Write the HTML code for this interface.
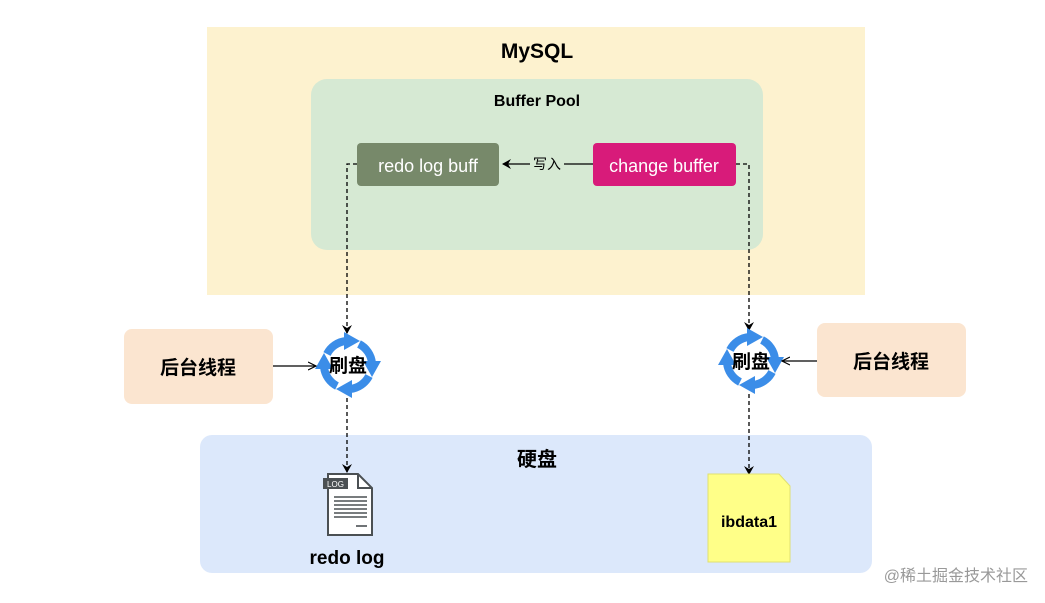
<!DOCTYPE html>
<html><head><meta charset="utf-8"><style>
body{margin:0;background:#fff;}
svg{display:block;}
text{font-family:"Liberation Sans","Noto Sans CJK SC",sans-serif;}
</style></head><body>
<svg width="1045" height="603" viewBox="0 0 1045 603" xmlns="http://www.w3.org/2000/svg">
<defs>
<marker id="ah" markerWidth="10" markerHeight="10" refX="8" refY="5" orient="auto" markerUnits="userSpaceOnUse"><path d="M0,0 L9,5 L0,10 L3,5 Z" fill="#000"/></marker>
<marker id="ao" markerWidth="10" markerHeight="10" refX="8" refY="5" orient="auto" markerUnits="userSpaceOnUse"><path d="M0,1 L8,5 L0,9" fill="none" stroke="#000" stroke-width="1.2"/></marker>
<g id="cyc">
<path d="M-21,-11 A24,24 0 0 1 -2,-24" fill="none" stroke="#3b8de8" stroke-width="8"/>
<path d="M-4,-33 L12,-24 L-4,-15 Z" fill="#3b8de8"/>
<path d="M11,-21 A24,24 0 0 1 24,-2" fill="none" stroke="#3b8de8" stroke-width="8"/>
<path d="M33,-4 L24,12 L15,-4 Z" fill="#3b8de8"/>
<path d="M21,11 A24,24 0 0 1 2,24" fill="none" stroke="#3b8de8" stroke-width="8"/>
<path d="M4,33 L-12,24 L4,15 Z" fill="#3b8de8"/>
<path d="M-11,21 A24,24 0 0 1 -24,2" fill="none" stroke="#3b8de8" stroke-width="8"/>
<path d="M-33,4 L-24,-12 L-15,4 Z" fill="#3b8de8"/>
</g>
</defs>
<rect x="207" y="27" width="658" height="268" fill="#fdf2cf"/>
<text x="537" y="58" font-size="21" font-weight="bold" text-anchor="middle">MySQL</text>
<rect x="311" y="79" width="452" height="171" rx="16" fill="#d6e9d3"/>
<text x="537" y="106" font-size="16" font-weight="bold" text-anchor="middle">Buffer Pool</text>
<rect x="357" y="143" width="142" height="43" rx="4" fill="#77896a"/>
<text x="428" y="172" font-size="18" fill="#fff" text-anchor="middle">redo log buff</text>
<rect x="593" y="143" width="143" height="43" rx="4" fill="#d81b7a"/>
<text x="664" y="172" font-size="18" fill="#fff" text-anchor="middle">change buffer</text>
<line x1="593" y1="164" x2="564" y2="164" stroke="#000" stroke-width="1.3"/>
<line x1="530" y1="164" x2="503" y2="164" stroke="#000" stroke-width="1.3" marker-end="url(#ah)"/>
<text x="547" y="169" font-size="14" text-anchor="middle">写入</text>
<polyline points="357,164 347,164 347,333" fill="none" stroke="#000" stroke-width="1.3" stroke-dasharray="4,3" marker-end="url(#ah)"/>
<polyline points="736,164 749,164 749,330" fill="none" stroke="#000" stroke-width="1.3" stroke-dasharray="4,3" marker-end="url(#ah)"/>
<rect x="124" y="329" width="149" height="75" rx="8" fill="#fbe5d0"/>
<text x="198" y="374" font-size="19" font-weight="bold" text-anchor="middle">后台线程</text>
<rect x="817" y="323" width="149" height="74" rx="8" fill="#fbe5d0"/>
<text x="891" y="368" font-size="19" font-weight="bold" text-anchor="middle">后台线程</text>
<use href="#cyc" x="348" y="365"/>
<use href="#cyc" x="751" y="361"/>
<text x="348" y="372" font-size="19" font-weight="bold" text-anchor="middle">刷盘</text>
<text x="751" y="368" font-size="19" font-weight="bold" text-anchor="middle">刷盘</text>
<line x1="273" y1="366" x2="316" y2="366" stroke="#000" stroke-width="1.3" marker-end="url(#ao)"/>
<line x1="817" y1="361" x2="782" y2="361" stroke="#000" stroke-width="1.3" marker-end="url(#ao)"/>
<rect x="200" y="435" width="672" height="138" rx="12" fill="#dce8fb"/>
<text x="537" y="466" font-size="20" font-weight="bold" text-anchor="middle">硬盘</text>
<line x1="347" y1="398" x2="347" y2="472" stroke="#000" stroke-width="1.3" stroke-dasharray="4,3" marker-end="url(#ah)"/>
<line x1="749" y1="394" x2="749" y2="474" stroke="#000" stroke-width="1.3" stroke-dasharray="4,3" marker-end="url(#ah)"/>
<path d="M328,474 L358,474 L372,488 L372,535 L328,535 Z" fill="#fff" stroke="#4b5053" stroke-width="2"/>
<path d="M358,474 L358,488 L372,488" fill="none" stroke="#4b5053" stroke-width="2"/>
<rect x="323" y="478" width="25" height="11" fill="#4b5053"/>
<text x="335.5" y="487" font-size="8" fill="#fff" text-anchor="middle">LOG</text>
<g stroke="#4b5053" stroke-width="1.6">
<line x1="334" y1="497" x2="367" y2="497"/><line x1="334" y1="501" x2="367" y2="501"/><line x1="334" y1="505" x2="367" y2="505"/><line x1="334" y1="509" x2="367" y2="509"/><line x1="334" y1="513" x2="367" y2="513"/><line x1="334" y1="517" x2="367" y2="517"/><line x1="356" y1="526" x2="367" y2="526"/>
</g>
<text x="347" y="564" font-size="19" font-weight="bold" text-anchor="middle">redo log</text>
<path d="M708,474 L779,474 L790,486 L790,562 L708,562 Z" fill="#ffff88" stroke="#e0e070" stroke-width="1"/>
<text x="749" y="527" font-size="16" font-weight="bold" text-anchor="middle">ibdata1</text>
<text x="1028" y="581" font-size="16" fill="#999" text-anchor="end">@稀土掘金技术社区</text>
</svg>
</body></html>
